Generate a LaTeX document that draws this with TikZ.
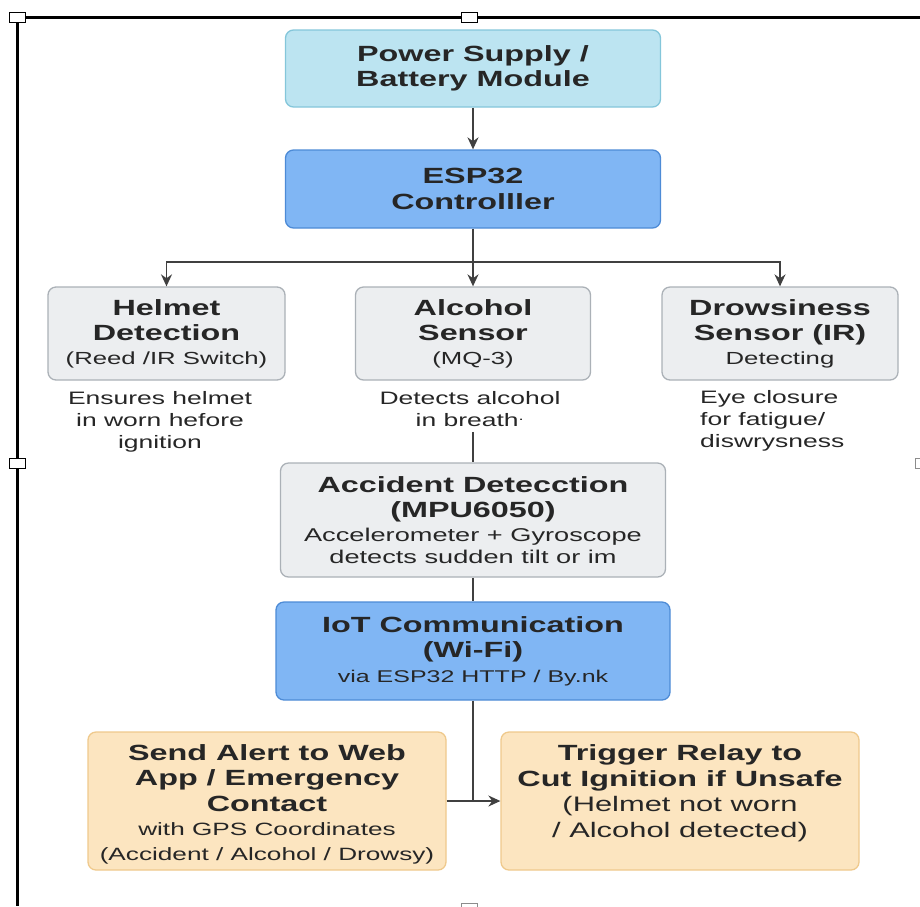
\documentclass[tikz,border=0pt]{standalone}
\usepackage{fontspec}
\setmainfont[FakeStretch=1.47]{Liberation Sans}
\usetikzlibrary{arrows.meta}
\definecolor{powfill}{HTML}{BCE4F1}
\definecolor{powline}{HTML}{84C6DA}
\definecolor{ctlfill}{HTML}{80B6F4}
\definecolor{ctlline}{HTML}{4D8BD6}
\definecolor{senfill}{HTML}{ECEEF0}
\definecolor{senline}{HTML}{ABB1B7}
\definecolor{outfill}{HTML}{FCE5C0}
\definecolor{outline}{HTML}{EFC98C}
\definecolor{ink}{HTML}{262626}
\newcommand{\boxhead}{\bfseries\fontsize{22}{25}\selectfont}
\newcommand{\boxsub}{\fontsize{17.5}{22}\selectfont}

\begin{document}
\begin{tikzpicture}[x=1pt,y=-1pt,
    box/.style={rounded corners=8pt, line width=1.3pt, align=center, inner sep=0pt,
      text=ink, font=\fontsize{22}{25.5}\selectfont},
    powerbox/.style={box, fill=powfill, draw=powline},
    ctlbox/.style={box, fill=ctlfill, draw=ctlline},
    sensorbox/.style={box, fill=senfill, draw=senline},
    actbox/.style={box, fill=outfill, draw=outline},
    note/.style={align=center, inner sep=0pt, text=ink, font=\fontsize{18}{22}\selectfont},
    wire/.style={draw=black!75, line width=1.5pt},
    flow/.style={wire, -{Stealth[length=12pt,width=11pt]}},
    handle/.style={draw=black, fill=white, line width=0.9pt}]
    %%%%% START %%%%%
    \useasboundingbox (0,0) rectangle (920,906);

    % frame of the page
    \draw[line width=3pt] (10,17) -- (920,17);
    \draw[line width=3pt] (17,17) -- (17,906);
    \draw[handle] (9,12) rectangle (25,22);
    \draw[handle] (461,12) rectangle (477,22);
    \draw[handle] (9,458) rectangle (25,468);
    \draw[handle, draw=black!45] (461,903) rectangle (477,913);
    \draw[handle, draw=black!45] (915,458) rectangle (931,468);

    \node[powerbox, minimum width=375, minimum height=77] (power) at (473,68.5)
      {{\boxhead Power Supply /}\\{\boxhead Battery Module}};
    \node[ctlbox, minimum width=375, minimum height=78] (esp) at (473,189)
      {{\boxhead ESP32}\\{\boxhead Controlller}};

    \node[sensorbox, minimum width=237, minimum height=93] (helmet) at (166.5,333.5)
      {{\boxhead Helmet}\\{\boxhead Detection}\\[-2pt]{\boxsub (Reed /IR Switch)}};
    \node[sensorbox, minimum width=235, minimum height=93] (alcohol) at (473,333.5)
      {{\boxhead Alcohol}\\{\boxhead Sensor}\\[-2pt]{\boxsub (MQ-3)}};
    \node[sensorbox, minimum width=236, minimum height=93] (drowsy) at (780,333.5)
      {{\boxhead Drowsiness}\\{\boxhead Sensor (IR)}\\[-2pt]{\boxsub Detecting}};

    \node[note] (helmetnote) at (160,422)
      {Ensures helmet\\in worn hefore\\ignition};
    \node[note] (alcoholnote) at (470,409)
      {Detects alcohol\\in breath\textsuperscript{.}};
    \node[note, align=left, anchor=west] (drowsynote) at (700,421)
      {Eye closure\\for fatigue/\\diswrysness};

    \node[sensorbox, minimum width=385, minimum height=114] (accident) at (473,520)
      {{\boxhead Accident Detecction}\\{\boxhead (MPU6050)}\\[-2pt]
       {\fontsize{18.5}{22}\selectfont Accelerometer + Gyroscope}\\[-3pt]
       {\fontsize{18.5}{22}\selectfont detects sudden tilt or im}};
    \node[ctlbox, minimum width=394, minimum height=98] (iot) at (473,651)
      {{\boxhead IoT Communication}\\{\boxhead (Wi-Fi)}\\[-1pt]
       {\fontsize{17}{22}\selectfont via ESP32 HTTP / By.nk}};

    \node[actbox, minimum width=358, minimum height=138] (alert) at (267,801) {};
    \node[box] (alerttext) at (267,804)
      {{\boxhead Send Alert to Web}\\{\boxhead App / Emergency}\\{\boxhead Contact}\\[-1pt]
       {\fontsize{17.8}{22}\selectfont with GPS Coordinates}\\[-1pt]
       {\fontsize{17.8}{22}\selectfont (Accident / Alcohol / Drowsy)}};
    \node[actbox, minimum width=358, minimum height=138] (trigger) at (680,801) {};
    \node[box, font=\fontsize{21}{25.5}\selectfont] (triggertext) at (680,793)
      {{\boxhead Trigger Relay to}\\{\boxhead Cut Ignition if Unsafe}\\
       (Helmet not worn\\/ Alcohol detected)};

    % connectors
    \coordinate (split) at (473,262);
    \draw[flow] (power) -- (esp);
    \draw[wire] (esp) -- (split);
    \draw[flow] (split) -| (helmet.north);
    \draw[flow] (split) -- (alcohol);
    \draw[flow] (split) -| (drowsy.north);
    \draw[wire] (accident.north |- alcoholnote.south) ++(0,5) -- (accident.north);
    \draw[wire] (accident) -- (iot);
    \draw[wire] (iot.south) -- (iot.south |- trigger.west);
    \draw[flow] (alert.east) -- (trigger.west);
    %%%%% END %%%%%
\end{tikzpicture}
\end{document}
